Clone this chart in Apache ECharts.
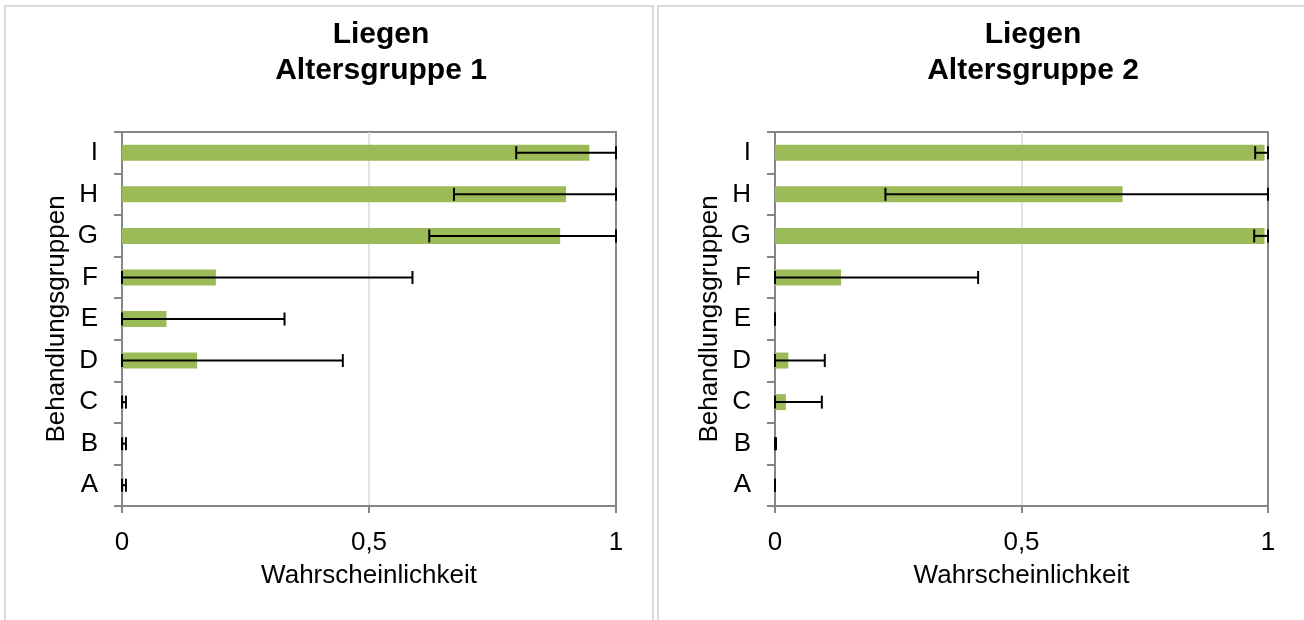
<!DOCTYPE html>
<html>
<head>
<meta charset="utf-8">
<script src="https://cdn.jsdelivr.net/npm/echarts@6/dist/echarts.min.js"></script>
<style>
html,body{margin:0;padding:0;background:#fff;}
#c{width:1304px;height:620px;}
</style>
</head>
<body>
<div id="c"></div>
<script>
// ---- data ----
const categories = ['A','B','C','D','E','F','G','H','I'];
const tickValues = [0, 0.5, 1];

const group1Values = [0.003, 0.003, 0.003, 0.152, 0.090, 0.190, 0.887, 0.899, 0.946];
const group1Low    = [0, 0, 0, 0, 0, 0, 0.622, 0.672, 0.798];
const group1High   = [0.008, 0.008, 0.008, 0.447, 0.329, 0.588, 1.0, 1.0, 1.0];

const group2Values = [0, 0, 0.022, 0.027, 0, 0.134, 0.993, 0.705, 0.993];
const group2Low    = [0, 0, 0, 0, 0, 0, 0.972, 0.224, 0.974];
const group2High   = [0, 0.002, 0.095, 0.101, 0, 0.412, 1.0, 1.0, 1.0];

const titles = ['Liegen\nAltersgruppe 1', 'Liegen\nAltersgruppe 2'];
const yName = 'Behandlungsgruppen';
const xName = 'Wahrscheinlichkeit';

// ---- chart ----
const FONT = '"Liberation Sans", Arial, sans-serif';
const AX = '#868686';
const chart = echarts.init(document.getElementById('c'), null, {renderer: 'canvas'});

function errData(lo, hi) {
  return categories.map((c, i) => [i, lo[i], hi[i]]);
}
function renderErr(params, api) {
  const y = api.value(0);
  const p1 = api.coord([api.value(1), y]);
  const p2 = api.coord([api.value(2), y]);
  const h = 6.5;
  const st = {stroke: '#000', lineWidth: 2};
  return {type: 'group', children: [
    {type: 'line', shape: {x1: p1[0], y1: p1[1], x2: p2[0], y2: p2[1]}, style: st},
    {type: 'line', shape: {x1: p1[0], y1: p1[1] - h, x2: p1[0], y2: p1[1] + h}, style: st},
    {type: 'line', shape: {x1: p2[0], y1: p2[1] - h, x2: p2[0], y2: p2[1] + h}, style: st}
  ]};
}
function xAxisCfg(gi) {
  return {
    type: 'value', gridIndex: gi, min: tickValues[0], max: tickValues[2], interval: tickValues[1],
    name: xName, nameLocation: 'middle', nameGap: 57,
    nameTextStyle: {fontSize: 26, color: '#000', fontFamily: FONT},
    axisLine: {show: true, lineStyle: {color: AX, width: 2}},
    axisTick: {show: true, length: 7, lineStyle: {color: AX, width: 2}},
    axisLabel: {fontSize: 26, color: '#000', fontFamily: FONT, margin: 24,
      formatter: v => String(v).replace('.', ',')},
    splitLine: {show: true, lineStyle: {color: [AX, '#d9d9d9', AX], width: 1.5}}
  };
}
function yAxisCfg(gi) {
  return {
    type: 'category', gridIndex: gi, data: categories,
    name: yName, nameLocation: 'middle', nameGap: 52,
    nameTextStyle: {fontSize: 26, color: '#000', fontFamily: FONT},
    axisLine: {show: true, lineStyle: {color: AX, width: 2}},
    axisTick: {show: true, length: 8, interval: 0, lineStyle: {color: AX, width: 2}},
    axisLabel: {fontSize: 26, color: '#000', fontFamily: FONT, margin: 24, interval: 0},
    splitLine: {show: false}
  };
}

const option = {
  animation: false,
  backgroundColor: '#fff',
  graphic: [
    {type: 'rect', shape: {x: 5, y: 6, width: 648, height: 700}, style: {fill: 'none', stroke: '#d9d9d9', lineWidth: 2}, silent: true},
    {type: 'rect', shape: {x: 658, y: 6, width: 700, height: 700}, style: {fill: 'none', stroke: '#d9d9d9', lineWidth: 2}, silent: true}
  ],
  title: [
    {text: titles[0], left: 381, top: 17, padding: 0, textAlign: 'center',
     textStyle: {fontSize: 30, fontWeight: 'bold', color: '#000', fontFamily: FONT, lineHeight: 36}},
    {text: titles[1], left: 1033, top: 17, padding: 0, textAlign: 'center',
     textStyle: {fontSize: 30, fontWeight: 'bold', color: '#000', fontFamily: FONT, lineHeight: 36}}
  ],
  grid: [
    {left: 122, width: 494, top: 132, height: 374, show: true, borderColor: AX, borderWidth: 2, backgroundColor: 'transparent', containLabel: false},
    {left: 775, width: 493, top: 132, height: 374, show: true, borderColor: AX, borderWidth: 2, backgroundColor: 'transparent', containLabel: false}
  ],
  xAxis: [xAxisCfg(0), xAxisCfg(1)],
  yAxis: [yAxisCfg(0), yAxisCfg(1)],
  series: [
    {type: 'bar', xAxisIndex: 0, yAxisIndex: 0, data: group1Values, barWidth: 16,
     itemStyle: {color: '#9BBB59'}},
    {type: 'bar', xAxisIndex: 1, yAxisIndex: 1, data: group2Values, barWidth: 16,
     itemStyle: {color: '#9BBB59'}},
    {type: 'custom', xAxisIndex: 0, yAxisIndex: 0, data: errData(group1Low, group1High),
     encode: {x: [1, 2], y: 0}, renderItem: renderErr, z: 5},
    {type: 'custom', xAxisIndex: 1, yAxisIndex: 1, data: errData(group2Low, group2High),
     encode: {x: [1, 2], y: 0}, renderItem: renderErr, z: 5}
  ]
};
chart.setOption(option);
</script>
</body>
</html>
